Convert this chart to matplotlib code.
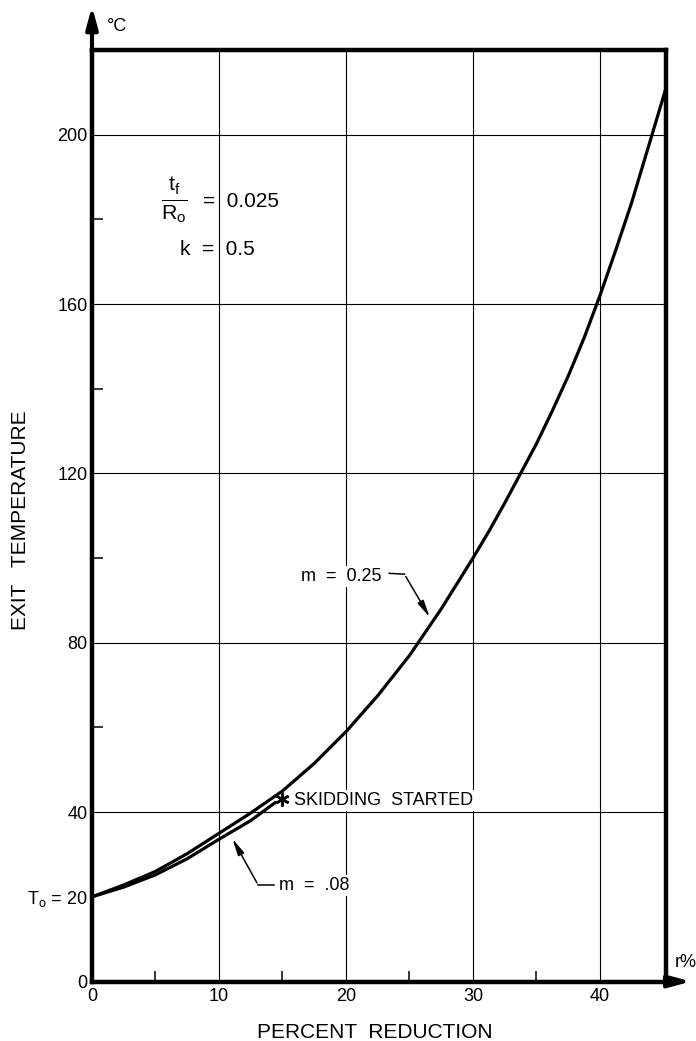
import numpy as np
import matplotlib
matplotlib.use("Agg")
import matplotlib.pyplot as plt

plt.rcParams['font.family'] = ['Liberation Sans', 'DejaVu Sans']
plt.rcParams['mathtext.fontset'] = 'custom'
plt.rcParams['mathtext.rm'] = 'Liberation Sans'
plt.rcParams['mathtext.it'] = 'Liberation Sans'

r_m025 = [0, 2.5, 5, 7.5, 10, 12.5, 15, 17.5, 20, 22.5, 25, 27.5, 30, 31.25, 32.5, 33.75,
          35, 36.25, 37.5, 38.75, 40, 41.25, 42.5, 43.75, 45.2]
t_m025 = [20, 22.8, 26, 30.2, 35, 39.8, 45, 51.5, 59, 67.5, 77, 88, 100, 106.3, 113, 120,
          127, 134.8, 143, 152, 162, 172.8, 184, 196.5, 211]

r_m008 = [0, 2.5, 5, 7.5, 10, 12.5, 14.4]
t_m008 = [20, 22.3, 25.2, 29, 33.6, 38, 42.2]

skid_r, skid_t = 15, 43

x_grid = [10, 20, 30, 40]
y_grid = [40, 80, 120, 160, 200]
x_ticks = [0, 10, 20, 30, 40]
y_ticks = [0, 20, 40, 80, 120, 160, 200]
y_ticklabels = ['0', r'T$_\mathregular{o}$ = 20', '40', '80', '120', '160', '200']
x_minor = [5, 15, 25, 35]
y_minor = [20, 60, 100, 140, 180]

fig = plt.figure(figsize=(6.96, 10.41), dpi=100)
ax = fig.add_axes([92/696, 59.5/1041, 574/696, 931.5/1041])
ax.set_xlim(0, 45.2)
ax.set_ylim(0, 220)

for x in x_grid:
    ax.axvline(x, color='black', lw=0.8, zorder=1)
for y in y_grid:
    ax.axhline(y, color='black', lw=0.8, zorder=1)

ax.plot(r_m025, t_m025, color='black', lw=2.3, zorder=3)
ax.plot(r_m008, t_m008, color='black', lw=2.3, zorder=3)
ax.plot(skid_r, skid_t, marker=(6, 2, 0), color='black', ms=10, mew=1.8, zorder=4)

for s in ax.spines.values():
    s.set_linewidth(3.2)

ax.set_xticks(x_ticks)
ax.set_xticklabels([str(v) for v in x_ticks], fontsize=13)
ax.set_yticks(y_ticks)
ax.set_yticklabels(y_ticklabels, fontsize=13)
ax.set_xticks(x_minor, minor=True)
ax.set_yticks(y_minor, minor=True)
ax.tick_params(which='major', length=0, pad=5)
ax.tick_params(axis='y', which='major', pad=3)
ax.tick_params(which='minor', direction='in', length=8, width=1.1)

# axis arrows
ax.annotate('', xy=(0, 231), xytext=(0, 219), annotation_clip=False,
            arrowprops=dict(arrowstyle='-|>,head_length=1.3,head_width=0.35', lw=3, color='black'))
ax.annotate('', xy=(47.4, 0), xytext=(45, 0), annotation_clip=False,
            arrowprops=dict(arrowstyle='-|>,head_length=1.3,head_width=0.35', lw=3, color='black'))
ax.text(1.2, 225.5, '°C', fontsize=13, va='center', ha='left', clip_on=False)
ax.text(45.85, 4.6, 'r%', fontsize=13, va='center', ha='left', clip_on=False)

# parameters
ax.text(6.5, 184.6, r'$\mathregular{\frac{t_f}{R_o}}$', fontsize=22, ha='center', va='center')
ax.text(8.75, 184.2, '=  0.025', fontsize=15, ha='left', va='center')
ax.text(6.9, 172.8, 'k  =  0.5', fontsize=15, ha='left', va='center')

box = dict(facecolor='white', edgecolor='none', pad=1.5)

# m = 0.25 label with leader
ax.text(19.6, 95.6, 'm  =  0.25', fontsize=13, ha='center', va='center', bbox=box, zorder=5)
ax.plot([23.4, 24.6], [96.4, 96.2], color='black', lw=1.1, zorder=5)
ax.annotate('', xy=(26.7, 85.5), xytext=(24.6, 96.2),
            arrowprops=dict(arrowstyle='-|>,head_length=1.0,head_width=0.2', lw=1.1, color='black'), zorder=5)

# m = .08 label with leader
ax.text(14.7, 22.7, 'm  =  .08', fontsize=13, ha='left', va='center', bbox=box, zorder=5)
ax.plot([13.1, 14.3], [22.7, 22.7], color='black', lw=1.1, zorder=5)
ax.annotate('', xy=(10.95, 34.3), xytext=(13.1, 22.7),
            arrowprops=dict(arrowstyle='-|>,head_length=1.0,head_width=0.2', lw=1.1, color='black'), zorder=5)

ax.text(15.9, 42.8, 'SKIDDING  STARTED', fontsize=13, ha='left', va='center', bbox=box, zorder=5)

fig.text(21/696, 1 - 520/1041, 'EXIT   TEMPERATURE', rotation=90, fontsize=15, ha='center', va='center')
fig.text(375/696, 1 - 1032/1041, 'PERCENT  REDUCTION', fontsize=15, ha='center', va='center')

fig.savefig('out.png', dpi=100)
